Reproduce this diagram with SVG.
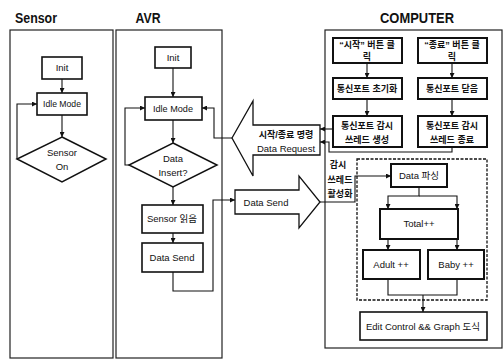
<svg xmlns="http://www.w3.org/2000/svg" width="504" height="361" viewBox="0 0 504 361">
  <defs>
    <marker id="ah" viewBox="0 0 6 6" refX="6" refY="3" markerWidth="5" markerHeight="5" orient="auto" markerUnits="userSpaceOnUse">
      <path d="M0,0 L6,3 L0,6 z" fill="#111"/>
    </marker>
    <style>
      text { font-family: "Liberation Sans Narrow", "Liberation Sans", "Noto Sans CJK KR", sans-serif; fill: #111; text-anchor: middle; }
      .title { font-size: 14px; font-weight: bold; }
      .lbl { font-size: 9.5px; }
      .klbl { font-size: 9px; font-weight: bold; }
      .lane { fill: none; stroke: #222; stroke-width: 1.2; }
      .box { fill: #fff; stroke: #111; stroke-width: 1.6; }
      .cbox { fill: #fff; stroke: #111; stroke-width: 2; }
      .dia { fill: #fff; stroke: #111; stroke-width: 1.5; }
      .big { fill: #fff; stroke: #111; stroke-width: 1.3; }
      .dash { fill: none; stroke: #111; stroke-width: 1.3; stroke-dasharray: 3 1.5; }
      .con { fill: none; stroke: #111; stroke-width: 1.1; }
      .arr { marker-end: url(#ah); }
    </style>
  </defs>

  <rect width="504" height="361" fill="#fff"/>

  <!-- swimlanes -->
  <g id="lane-sensor">
    <text class="title" x="36" y="23" textLength="42" lengthAdjust="spacingAndGlyphs">Sensor</text>
    <rect class="lane" x="10" y="30" width="103" height="328"/>
  </g>
  <g id="lane-avr">
    <text class="title" x="148" y="23" textLength="25" lengthAdjust="spacingAndGlyphs">AVR</text>
    <rect class="lane" x="116" y="30" width="106" height="328"/>
  </g>
  <g id="lane-computer">
    <text class="title" x="417" y="23" textLength="74" lengthAdjust="spacingAndGlyphs">COMPUTER</text>
    <rect class="lane" x="325" y="30" width="177" height="318"/>
  </g>

  <!-- Sensor nodes -->
  <g id="s-init">
    <rect class="box" x="42" y="57" width="40" height="22"/>
    <text class="lbl" x="62" y="71">Init</text>
  </g>
  <g id="s-idle">
    <rect class="box" x="37" y="93" width="50" height="22"/>
    <text class="lbl" x="62" y="107" textLength="38" lengthAdjust="spacingAndGlyphs">Idle Mode</text>
  </g>
  <g id="s-on">
    <polygon class="dia" points="62,137 106,159 62,182 17,159"/>
    <text class="lbl" x="62" y="156">Sensor</text>
    <text class="lbl" x="62" y="170">On</text>
  </g>

  <!-- AVR nodes -->
  <g id="a-init">
    <rect class="box" x="155" y="47" width="36" height="21"/>
    <text class="lbl" x="173" y="61">Init</text>
  </g>
  <g id="a-idle">
    <rect class="box" x="145" y="97" width="57" height="23"/>
    <text class="lbl" x="173" y="112" textLength="40" lengthAdjust="spacingAndGlyphs">Idle Mode</text>
  </g>
  <g id="a-insert">
    <polygon class="dia" points="173,143 217,165 173,187 129,165"/>
    <text class="lbl" x="173" y="162">Data</text>
    <text class="lbl" x="173" y="176">Insert?</text>
  </g>
  <g id="a-read">
    <rect class="box" x="142" y="205" width="61" height="28"/>
    <text class="lbl" x="172" y="222">Sensor 읽음</text>
  </g>
  <g id="a-send">
    <rect class="box" x="142" y="243" width="61" height="29"/>
    <text class="lbl" x="172" y="261">Data Send</text>
  </g>

  <!-- block arrows between AVR and COMPUTER -->
  <g id="request">
    <polygon class="big" points="232,138 253,101 253,125 320,125 320,155 253,155 253,176"/>
    <text class="klbl" x="286" y="138">시작/종료 명령</text>
    <text class="lbl" x="286" y="152">Data Request</text>
  </g>
  <g id="send">
    <polygon class="big" points="235,190 299,190 299,176 320,202 299,228 299,214 235,214"/>
    <text class="lbl" x="266" y="206">Data Send</text>
  </g>

  <!-- COMPUTER nodes -->
  <g id="c-start">
    <rect class="cbox" x="333" y="38" width="69" height="25"/>
    <text class="klbl" x="367" y="48">“시작” 버튼 클</text>
    <text class="klbl" x="367" y="60">릭</text>
  </g>
  <g id="c-stop">
    <rect class="cbox" x="418" y="38" width="69" height="25"/>
    <text class="klbl" x="452" y="48">“종료” 버튼 클</text>
    <text class="klbl" x="452" y="60">릭</text>
  </g>
  <g id="c-open">
    <rect class="cbox" x="333" y="78" width="69" height="21"/>
    <text class="klbl" x="367" y="92">통신포트 초기화</text>
  </g>
  <g id="c-close">
    <rect class="cbox" x="418" y="78" width="69" height="21"/>
    <text class="klbl" x="452" y="92">통신포트 닫음</text>
  </g>
  <g id="c-thread-new">
    <rect class="cbox" x="333" y="116" width="69" height="31"/>
    <text class="klbl" x="367" y="129">통신포트 감시</text>
    <text class="klbl" x="367" y="143">쓰레드 생성</text>
  </g>
  <g id="c-thread-end">
    <rect class="cbox" x="418" y="116" width="69" height="31"/>
    <text class="klbl" x="452" y="129">통신포트 감시</text>
    <text class="klbl" x="452" y="143">쓰레드 종료</text>
  </g>
  <g id="c-active">
    <text class="klbl" x="338" y="168">감시</text>
    <text class="klbl" x="340" y="183">쓰레드</text>
    <text class="klbl" x="340" y="197">활성화</text>
  </g>
  <g id="c-worker">
    <rect class="dash" x="357" y="159" width="130" height="141"/>
  </g>
  <g id="c-parse">
    <rect class="cbox" x="391" y="164" width="56" height="23"/>
    <text class="lbl" x="419" y="179">Data 파싱</text>
  </g>
  <g id="c-total">
    <rect class="cbox" x="380" y="209" width="78" height="30"/>
    <text class="lbl" x="419" y="227">Total++</text>
  </g>
  <g id="c-adult">
    <rect class="cbox" x="363" y="250" width="57" height="29"/>
    <text class="lbl" x="391" y="268">Adult ++</text>
  </g>
  <g id="c-baby">
    <rect class="cbox" x="428" y="250" width="56" height="29"/>
    <text class="lbl" x="456" y="268">Baby ++</text>
  </g>
  <g id="c-edit">
    <rect class="box" x="360" y="312" width="127" height="28"/>
    <text class="lbl" x="423" y="330">Edit Control &amp;&amp; Graph 도식</text>
  </g>

  <!-- connectors -->
  <g id="connectors">
    <!-- Sensor -->
    <path class="con arr" d="M62,79 V93"/>
    <path class="con arr" d="M62,115 V137"/>
    <path class="con arr" d="M17,159 V104 H37"/>
    <!-- AVR -->
    <path class="con arr" d="M173,68 V97"/>
    <path class="con arr" d="M173,120 V143"/>
    <path class="con arr" d="M129,165 H125 V108 H145"/>
    <path class="con arr" d="M232,138 H214 V108 H202"/>
    <path class="con arr" d="M173,187 V205"/>
    <path class="con arr" d="M173,233 V243"/>
    <path class="con arr" d="M173,272 V291 H213 V200 H235"/>
    <!-- COMPUTER -->
    <path class="con arr" d="M367,63 V78"/>
    <path class="con arr" d="M452,63 V78"/>
    <path class="con arr" d="M367,99 V116"/>
    <path class="con arr" d="M452,99 V116"/>
    <path class="con arr" d="M333,129 H320"/>
    <path class="con arr" d="M452,147 V152 H329 V142 H320"/>
    <path class="con arr" d="M320,202 H355 V176 H391"/>
    <path class="con arr" d="M419,187 V196 H388 V209"/>
    <path class="con arr" d="M419,196 H457 V209"/>
    <path class="con arr" d="M388,239 V250"/>
    <path class="con arr" d="M457,239 V250"/>
    <path class="con" d="M388,279 V295 H457 V279"/>
    <path class="con arr" d="M423,295 V312"/>
  </g>
</svg>
